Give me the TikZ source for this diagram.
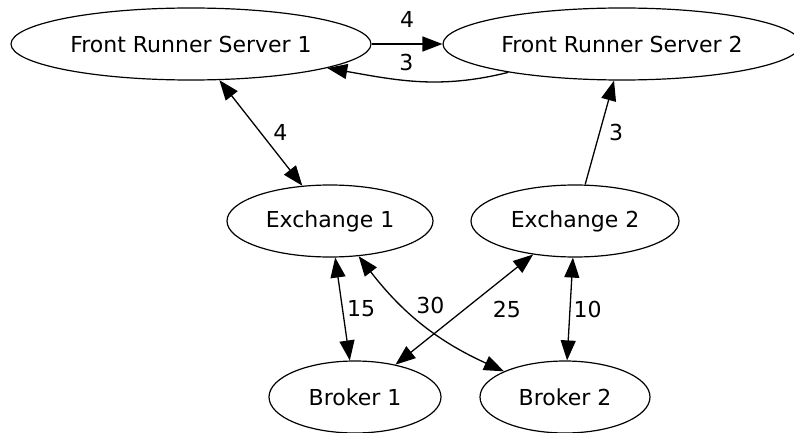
\documentclass[tikz,border=0pt]{standalone}
\usepackage{fontspec}
\setmainfont{DejaVu Sans}
\usetikzlibrary{arrows.meta, shapes.geometric}

\begin{document}
\begin{tikzpicture}[
  x=1pt, y=-1pt,
  state/.style={draw, ellipse, line width=1.2pt, minimum height=72pt, inner sep=0pt,
                font=\fontsize{22}{26}\selectfont},
  arr/.style={-{Triangle[length=20pt, width=15pt]}, line width=1.3pt},
  both/.style={{Triangle[length=20pt, width=15pt]}-{Triangle[length=20pt, width=15pt]},
               line width=1.3pt},
  lbl/.style={inner sep=1pt, font=\fontsize{22}{26}\selectfont},
]
\useasboundingbox (0,0) rectangle (794,433);

\node[state, minimum width=360pt] (frs1) at (191,44)  {Front Runner Server 1};
\node[state, minimum width=358pt] (frs2) at (622,44)  {Front Runner Server 2};
\node[state, minimum width=206pt] (ex1)  at (330,221) {Exchange 1};
\node[state, minimum width=208pt] (ex2)  at (575,221) {Exchange 2};
\node[state, minimum width=172pt] (br1)  at (355,397) {Broker 1};
\node[state, minimum width=170pt] (br2)  at (565,397) {Broker 2};

% links between the two front runner servers
\draw[arr] (frs1) -- node[lbl, above=15pt] {4} (frs2);
\draw[arr] (frs2) to[out=194, in=-10]
  node[lbl, pos=0.57, above=8pt] {3} (frs1);

\draw[both] (frs1) -- node[lbl, right=11pt] {4} (ex1);
\draw[arr] (ex2) -- node[lbl, right=8pt] {3} ([xshift=-8pt]frs2.south);

% exchanges to brokers
\draw[both] (ex1) -- node[lbl, right=3pt] {15} (br1);
\draw[both] (ex1) to[bend right=14] node[lbl, pos=0.36, right=10pt, yshift=3pt] {30} (br2);
\draw[both] (ex2) -- node[lbl, right=27pt] {25} (br1);
\draw[both] (ex2) -- node[lbl, right=2pt] {10} (br2);

\end{tikzpicture}
\end{document}
